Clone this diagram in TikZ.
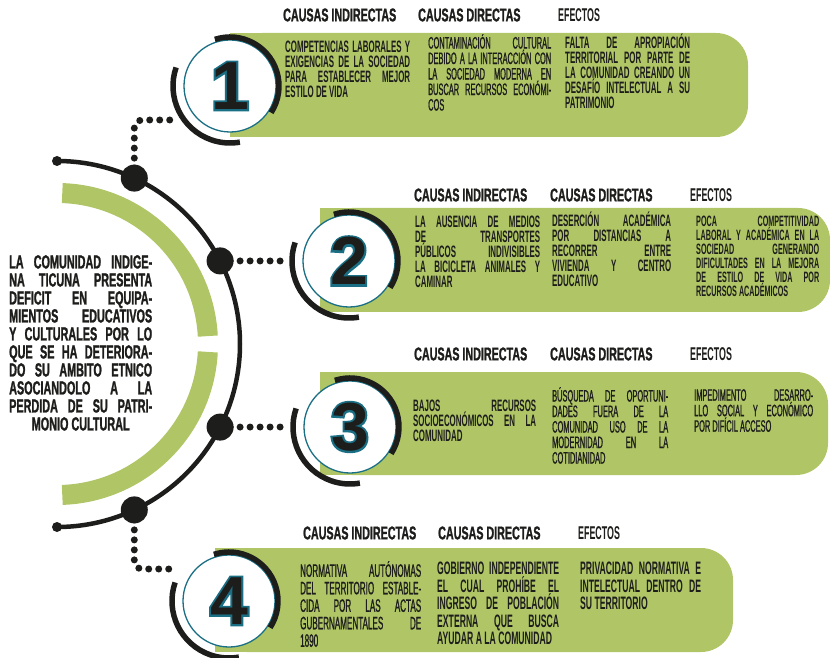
\documentclass[tikz,border=0pt]{standalone}
\usepackage{fontspec}
\newfontfamily\condb[FakeStretch=0.48]{Liberation Sans}
\newfontfamily\condl[FakeStretch=0.45,FakeBold=0.8]{Liberation Sans}
\newfontfamily\headf[UprightFont=* Bold,FakeStretch=0.58,FakeBold=1.2]{Liberation Sans}
\newfontfamily\leftf[UprightFont=* Bold,FakeStretch=0.57,FakeBold=1.2]{Liberation Sans}
\newfontfamily\numf{Liberation Sans}
\newfontfamily\numo[UprightFont=* Bold,FakeBold=6]{Liberation Sans}
\definecolor{barg}{HTML}{AFC566}
\definecolor{tealc}{HTML}{1A6F85}
\definecolor{ink}{HTML}{1D1D1B}
\newcommand{\parsetup}{\parindent=0pt\tolerance=10000\hbadness=10000\relax}

\begin{document}
\begin{tikzpicture}
[x=1pt,y=1pt,
 bar/.style={fill=barg},
 spine/.style={draw=ink,line width=4.5pt},
 bigdot/.style={circle,fill=ink,inner sep=0pt,minimum size=27pt},
 enddot/.style={circle,fill=ink,inner sep=0pt,minimum size=10pt},
 dots/.style={draw=ink,line width=7pt,line cap=round,dash pattern=on 0pt off 10pt},
 numring/.style={circle,draw=tealc,line width=1.3pt,fill=white,minimum size=92pt,inner sep=0pt},
 ring/.style={draw=ink,line width=5.5pt},
 digit/.style={inner sep=0pt,text=ink,font=\numf\bfseries\fontsize{68}{68}\selectfont},
 digitline/.style={inner sep=0pt,text=tealc,font=\numo\fontsize{68}{68}\selectfont},
 colhead/.style={anchor=west,inner sep=0pt,text=ink,font=\headf\fontsize{18.5}{18.5}\selectfont},
 effhead/.style={anchor=west,inner sep=0pt,text=ink,font=\condb\bfseries\fontsize{18.5}{18.5}\selectfont},
 txt/.style={anchor=north west,inner sep=0pt,align=justify,text width=#1,text=ink},
 boldtxt/.style={font=\condb\bfseries\fontsize{16.5}{15}\selectfont\parsetup},
 lighttxt/.style={font=\condl\fontsize{16.5}{15.5}\selectfont\parsetup},
 smalltxt/.style={font=\condb\bfseries\fontsize{15}{14}\selectfont\parsetup},
 boldbig/.style={font=\condb\bfseries\fontsize{18}{17.5}\selectfont\parsetup},
 lightbig/.style={font=\condl\fontsize{18}{17.5}\selectfont\parsetup},
 intro/.style={anchor=north west,inner sep=0pt,align=justify,text width=143,text=ink,
   font=\leftf\fontsize{19}{18}\selectfont\parsetup}]

  \useasboundingbox (0,0) rectangle (830,657);

  \fill[bar,rounded corners=32] (230,520) rectangle (748,624);
  \fill[bar] (230,520) rectangle (400,624);
  \fill[bar,rounded corners=32] (320,345) rectangle (830,449);
  \fill[bar] (320,345) rectangle (500,449);
  \fill[bar,rounded corners=32] (320,182) rectangle (828,285);
  \fill[bar] (320,182) rectangle (500,285);
  \fill[bar,rounded corners=32] (215,5) rectangle (733,109);
  \fill[bar] (215,5) rectangle (400,109);

  \draw[barg,line width=20pt] (57,313) ++(88:151) arc[start angle=88,end angle=3,radius=151];
  \draw[barg,line width=20pt] (57,313) ++(-3:151) arc[start angle=-3,end angle=-88,radius=151];

  \node[enddot] (t1) at (57,496) {};
  \node[enddot] (t2) at (57,130) {};
  \draw[spine] (t1.center) arc[start angle=90,end angle=-90,radius=183];

  \node[bigdot] (d1) at (134.3,478.9) {};
  \node[bigdot] (d2) at (220.1,396.1) {};
  \node[bigdot] (d3) at (220.1,229.9) {};
  \node[bigdot] (d4) at (134.3,147.1) {};

  \coordinate (k1) at (176,537);
  \coordinate (k2) at (283,396);
  \coordinate (k3) at (283,230);
  \coordinate (k4) at (172,88);

  \foreach \from/\to in {d2/k2,d3/k3}
    \draw[dots] (\from.center) -- (\to);
  \draw[dots,rounded corners=8] (d1.center) |- (k1);
  \draw[dots,rounded corners=8] (d4.center) |- (k4);

  \node[intro] (problem) at (9,402) {LA COMUNIDAD INDIGE-\linebreak NA TICUNA PRESENTA\linebreak
    DEFICIT EN EQUIPA-\linebreak MIENTOS EDUCATIVOS\linebreak Y CULTURALES POR LO\linebreak
    QUE SE HA DETERIORA-\linebreak DO SU AMBITO ETNICO\linebreak ASOCIANDOLO A LA\linebreak
    PERDIDA DE SU PATRI-\linebreak \makebox[\linewidth]{MONIO CULTURAL}};

  \foreach \n/\cx/\cy in {1/230/571,2/349/396,3/350/230,4/229/56}{
    \node[numring] (c\n) at (\cx,\cy) {};
    \draw[ring] (c\n.center) ++(108:49) arc[start angle=108,end angle=-33,radius=49];
    \draw[ring] (c\n.center) ++(161:57) arc[start angle=161,end angle=280,radius=57];
    \node[digitline] at (c\n) {\n};
    \node[digit] at (c\n) {\n};
  }

  \foreach \r/\y/\xa/\xb/\xc in {1/642/283/418/558,2/462/414/550/690,3/303/414/550/690,4/124/303/438/578}{
    \node[colhead] (ha\r) at (\xa,\y) {CAUSAS INDIRECTAS};
    \node[colhead] (hb\r) at (\xb,\y) {CAUSAS DIRECTAS};
    \node[effhead] (hc\r) at (\xc,\y) {EFECTOS};
  }

  \node[txt=125,boldtxt] (r1a) at (285,616) {COMPETENCIAS LABORALES Y\linebreak EXIGENCIAS DE LA SOCIEDAD\linebreak
    PARA ESTABLECER MEJOR\linebreak ESTILO DE VIDA};
  \node[txt=123,lighttxt] (r1b) at (428,623) {CONTAMINACIÓN CULTURAL\linebreak DEBIDO A LA INTERACCIÓN CON\linebreak
    LA SOCIEDAD MODERNA EN\linebreak BUSCAR RECURSOS ECONÓMI-\linebreak COS};
  \node[txt=125,boldtxt] (r1c) at (565,623) {FALTA DE APROPIACIÓN\linebreak TERRITORIAL POR PARTE DE\linebreak
    LA COMUNIDAD CREANDO UN\linebreak DESAFÍO INTELECTUAL A SU\linebreak PATRIMONIO};

  \node[txt=125,boldtxt] (r2a) at (415,441) {LA AUSENCIA DE MEDIOS\linebreak DE TRANSPORTES\linebreak
    PÚBLICOS INDIVISIBLES\linebreak LA BICICLETA ANIMALES Y\linebreak CAMINAR};
  \node[txt=119,boldtxt] (r2b) at (552,445) {DESERCIÓN ACADÉMICA\linebreak POR DISTANCIAS A\linebreak
    RECORRER ENTRE\linebreak VIVIENDA Y CENTRO\linebreak EDUCATIVO};
  \node[txt=123,smalltxt] (r2c) at (696,441) {POCA COMPETITIVIDAD\linebreak LABORAL Y ACADÉMICA EN LA\linebreak
    SOCIEDAD GENERANDO\linebreak DIFICULTADES EN LA MEJORA\linebreak DE ESTILO DE VIDA POR\linebreak RECURSOS ACADÉMICOS};

  \node[txt=123,boldtxt] (r3a) at (413,257) {BAJOS RECURSOS\linebreak SOCIOECONÓMICOS EN LA\linebreak COMUNIDAD};
  \node[txt=116,lighttxt] (r3b) at (552,270) {BÚSQUEDA DE OPORTUNI-\linebreak DADES FUERA DE LA\linebreak
    COMUNIDAD USO DE LA\linebreak MODERNIDAD EN LA\linebreak COTIDIANIDAD};
  \node[txt=119,lighttxt] (r3c) at (694,268) {IMPEDIMENTO DESARRO-\linebreak LLO SOCIAL Y ECONÓMICO\linebreak
    POR DIFÍCIL ACCESO};

  \node[txt=121,lightbig] (r4a) at (300,96) {NORMATIVA AUTÓNOMAS\linebreak DEL TERRITORIO ESTABLE-\linebreak
    CIDA POR LAS ACTAS\linebreak GUBERNAMENTALES DE\linebreak 1890};
  \node[txt=122,boldbig] (r4b) at (437,95) {GOBIERNO INDEPENDIENTE\linebreak EL CUAL PROHÍBE EL\linebreak
    INGRESO DE POBLACIÓN\linebreak EXTERNA QUE BUSCA\linebreak AYUDAR A LA COMUNIDAD};
  \node[txt=121,boldbig] (r4c) at (580,95) {PRIVACIDAD NORMATIVA E\linebreak INTELECTUAL DENTRO DE\linebreak
    SU TERRITORIO};

\end{tikzpicture}
\end{document}
